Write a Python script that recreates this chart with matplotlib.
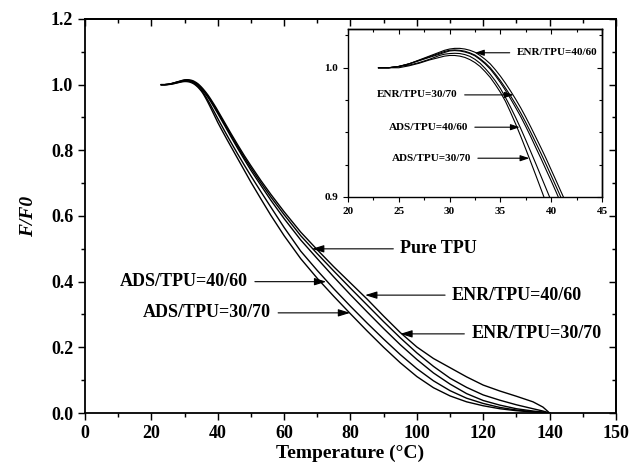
import numpy as np
import matplotlib
matplotlib.use("Agg")
import matplotlib.pyplot as plt
from matplotlib.ticker import MultipleLocator, FixedLocator, FormatStrFormatter

plt.rcParams['font.family'] = ['Liberation Serif', 'DejaVu Serif']
plt.rcParams['font.weight'] = 'bold'

# temperature grid (°C)
temp = [23, 24, 25, 26, 27, 28, 29, 29.5, 30, 30.5, 31, 31.5, 32, 32.5, 33, 33.5,
        34, 34.5, 35, 35.5, 36, 36.5, 37, 37.5, 38, 38.5, 39, 39.5, 40, 40.5, 41, 41.5,
        42, 43, 44, 46, 48, 50, 53, 56, 60, 65, 70,
        75, 80, 85, 90, 95, 100, 105, 110, 115, 120, 125, 130, 135, 138, 140]

# F/F0 for each sample
enr_40_60 = [1.000, 1.000, 1.001, 1.003, 1.006, 1.009, 1.012, 1.0135, 1.0145, 1.015,
             1.015, 1.0145, 1.0135, 1.012, 1.0095, 1.0065, 1.003, 0.9985, 0.9935, 0.988,
             0.982, 0.9757, 0.969, 0.9617, 0.954, 0.946, 0.938, 0.9297, 0.921, 0.9123,
             0.9035, 0.8948, 0.886, 0.8685, 0.851, 0.817, 0.784, 0.753, 0.708, 0.666,
             0.613, 0.551, 0.497,
             0.445, 0.396, 0.347, 0.295, 0.245, 0.201, 0.166, 0.138, 0.110, 0.085,
             0.067, 0.051, 0.034, 0.018, 0.000]
pure_tpu = [1.000, 1.000, 1.001, 1.003, 1.0057, 1.0085, 1.0112, 1.0126, 1.0135, 1.0138,
            1.0135, 1.0128, 1.0115, 1.0098, 1.007, 1.0038, 1.000, 0.9952, 0.990, 0.9843,
            0.9782, 0.9718, 0.965, 0.9576, 0.9498, 0.9417, 0.9336, 0.9252, 0.9165, 0.9078,
            0.899, 0.8903, 0.8814, 0.8637, 0.846, 0.8115, 0.778, 0.7465, 0.701, 0.658,
            0.604, 0.540, 0.485,
            0.432, 0.380, 0.329, 0.278, 0.229, 0.183, 0.142, 0.106, 0.078, 0.055,
            0.039, 0.025, 0.013, 0.006, 0.000]
enr_30_70 = [1.000, 1.000, 1.001, 1.003, 1.0055, 1.008, 1.0105, 1.0118, 1.013, 1.0133,
             1.013, 1.0122, 1.011, 1.0092, 1.0063, 1.003, 0.999, 0.994, 0.9885, 0.9825,
             0.976, 0.9692, 0.9622, 0.9545, 0.9465, 0.938, 0.9297, 0.921, 0.9125, 0.9036,
             0.8945, 0.8857, 0.8768, 0.859, 0.841, 0.806, 0.772, 0.739, 0.693, 0.648,
             0.592, 0.527, 0.470,
             0.414, 0.360, 0.308, 0.257, 0.208, 0.163, 0.122, 0.088, 0.059, 0.038,
             0.024, 0.013, 0.006, 0.003, 0.000]
ads_40_60 = [1.000, 1.000, 1.001, 1.002, 1.004, 1.0065, 1.0095, 1.0105, 1.011, 1.0112,
             1.011, 1.0102, 1.0088, 1.0065, 1.0035, 0.9995, 0.995, 0.9898, 0.984, 0.977,
             0.9695, 0.9615, 0.953, 0.944, 0.9348, 0.9255, 0.916, 0.9065, 0.897, 0.8878,
             0.8785, 0.8693, 0.860, 0.842, 0.824, 0.789, 0.755, 0.722, 0.674, 0.627,
             0.565, 0.493, 0.434,
             0.378, 0.325, 0.274, 0.225, 0.178, 0.135, 0.098, 0.068, 0.045, 0.029,
             0.017, 0.009, 0.004, 0.002, 0.000]
ads_30_70 = [1.000, 1.000, 1.000, 1.0015, 1.0035, 1.006, 1.008, 1.009, 1.0095, 1.0095,
             1.009, 1.008, 1.0063, 1.004, 1.001, 0.997, 0.9925, 0.987, 0.981, 0.974,
             0.9655, 0.9565, 0.947, 0.937, 0.9268, 0.9165, 0.906, 0.8955, 0.885, 0.8755,
             0.866, 0.8567, 0.8475, 0.829, 0.811, 0.775, 0.739, 0.703, 0.652, 0.602,
             0.540, 0.470, 0.410,
             0.355, 0.302, 0.250, 0.200, 0.153, 0.111, 0.077, 0.052, 0.034, 0.022,
             0.013, 0.007, 0.003, 0.001, 0.000]

series = [enr_40_60, pure_tpu, enr_30_70, ads_40_60, ads_30_70]

x_ticks = [0, 20, 40, 60, 80, 100, 120, 140, 160]
x_tick_labels = ['0', '20', '40', '60', '80', '100', '120', '140', '150']

# labels: (text, arrow tip T, arrow tip F/F0, text anchor T, side)
main_labels = [
    ('Pure TPU', 68.4, 0.50, 95.0, 'left'),
    ('ENR/TPU=40/60', 84.4, 0.359, 110.6, 'left'),
    ('ENR/TPU=30/70', 95.0, 0.241, 116.4, 'left'),
    ('ADS/TPU=40/60', 72.7, 0.40, 49.1, 'right'),
    ('ADS/TPU=30/70', 79.9, 0.305, 56.1, 'right'),
]
inset_labels = [
    ('ENR/TPU=40/60', 32.5, 1.0116, 36.6, 'left'),
    ('ENR/TPU=30/70', 36.3, 0.979, 30.8, 'right'),
    ('ADS/TPU=40/60', 36.9, 0.954, 31.8, 'right'),
    ('ADS/TPU=30/70', 37.85, 0.930, 32.1, 'right'),
]


def style_axes(ax, lw, major_len, minor_len, size):
    for sp in ax.spines.values():
        sp.set_linewidth(lw)
    ax.tick_params(which='both', direction='out', width=lw * 0.8,
                   top=False, right=False, labelsize=size)
    ax.tick_params(which='major', length=major_len)
    ax.tick_params(which='minor', length=minor_len)
    for lab in ax.get_xticklabels() + ax.get_yticklabels():
        lab.set_fontweight('bold')


def inner_ticks(ax, xmaj, xmin, ymaj, ymin, lw, major_len, minor_len):
    # top and right ticks point inwards, unlike bottom/left
    top = ax.secondary_xaxis('top')
    top.xaxis.set_major_locator(xmaj)
    top.xaxis.set_minor_locator(xmin)
    top.tick_params(which='both', direction='in', width=lw * 0.8, labeltop=False)
    top.tick_params(which='major', length=major_len)
    top.tick_params(which='minor', length=minor_len)
    top.spines['top'].set_linewidth(lw)
    right = ax.secondary_yaxis('right')
    right.yaxis.set_major_locator(ymaj)
    right.yaxis.set_minor_locator(ymin)
    right.tick_params(which='both', direction='in', width=lw * 0.8, labelright=False)
    right.tick_params(which='major', length=major_len)
    right.tick_params(which='minor', length=minor_len)
    right.spines['right'].set_linewidth(lw)


fig = plt.figure(figsize=(6.33, 4.69), dpi=100)
ax = fig.add_axes([0.1343, 0.1194, 0.8388, 0.8401])

for s in series:
    ax.plot(temp, s, color='black', lw=1.0)

ax.set_xlim(0, 160)
ax.set_ylim(0, 1.2)
ax.set_xticks(x_ticks)
ax.set_xticklabels(x_tick_labels)
ax.xaxis.set_minor_locator(MultipleLocator(10))
ax.yaxis.set_major_locator(MultipleLocator(0.2))
ax.yaxis.set_minor_locator(MultipleLocator(0.1))
ax.yaxis.set_major_formatter(FormatStrFormatter('%.1f'))
style_axes(ax, 1.3, 5, 3, 13)
inner_ticks(ax, FixedLocator(x_ticks), MultipleLocator(10),
            MultipleLocator(0.2), MultipleLocator(0.1), 1.3, 5, 3)

ax.set_xlabel('Temperature (\u00b0C)', fontsize=14, fontweight='bold', labelpad=2)
ax.set_ylabel('F/F0', fontsize=14, fontweight='bold', style='italic', labelpad=10)

arrow_main = dict(arrowstyle='-|>,head_length=0.55,head_width=0.17', color='black',
                  lw=0.8, shrinkA=3, shrinkB=0, mutation_scale=13)
for text, tx, ty, lx, side in main_labels:
    ax.annotate(text, xy=(tx, ty), xytext=(lx, ty), ha=side, va='center',
                fontsize=13, fontweight='bold', arrowprops=arrow_main)

# inset
axin = fig.add_axes([0.5498, 0.58, 0.4012, 0.3582])
for s in series:
    axin.plot(temp, s, color='black', lw=0.8)
axin.set_xlim(20, 45)
axin.set_ylim(0.9, 1.03)
axin.xaxis.set_major_locator(MultipleLocator(5))
axin.xaxis.set_minor_locator(MultipleLocator(2.5))
axin.yaxis.set_major_locator(FixedLocator([0.9, 1.0]))
axin.yaxis.set_minor_locator(MultipleLocator(0.025))
axin.yaxis.set_major_formatter(FormatStrFormatter('%.1f'))
style_axes(axin, 1.0, 3.5, 2, 8)
inner_ticks(axin, MultipleLocator(5), MultipleLocator(2.5),
            FixedLocator([0.9, 1.0]), MultipleLocator(0.025), 1.0, 3.5, 2)

arrow_in = dict(arrowstyle='-|>,head_length=0.6,head_width=0.2', color='black',
                lw=0.8, shrinkA=3, shrinkB=0, mutation_scale=9)
for text, tx, ty, lx, side in inset_labels:
    axin.annotate(text, xy=(tx, ty), xytext=(lx, ty), ha=side, va='center',
                  fontsize=8, fontweight='bold', arrowprops=arrow_in)

fig.savefig('out.png', dpi=100)
